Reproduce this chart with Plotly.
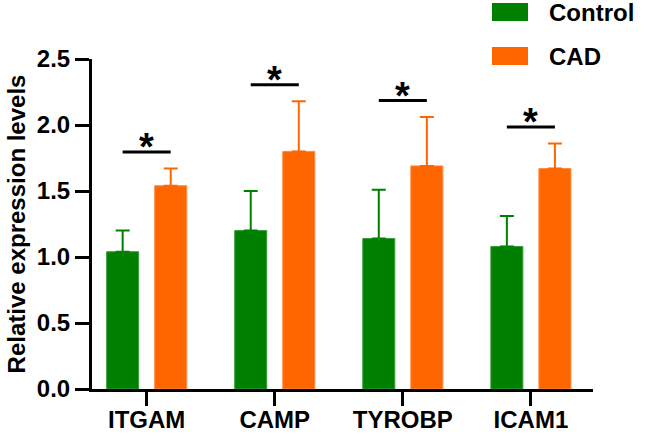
import plotly.graph_objects as go

genes = ["ITGAM", "CAMP", "TYROBP", "ICAM1"]
control = [1.04, 1.20, 1.14, 1.08]
control_err = [0.16, 0.30, 0.37, 0.23]
cad = [1.54, 1.80, 1.69, 1.67]
cad_err = [0.13, 0.38, 0.37, 0.19]
sig_labels = ["*", "*", "*", "*"]
series_names = ["Control", "CAD"]

GREEN = "#008000"
ORANGE = "#FF6600"
FONT = "Arial, Liberation Sans, sans-serif"

W, H = 645, 433
ML, MR, MT, MB = 92, 52, 59, 44

idx = list(range(len(genes)))
bw = 0.25
half = 0.1876

fig = go.Figure()
fig.add_trace(go.Bar(
    x=idx, y=control, name=series_names[0], width=bw, offset=-half - bw / 2,
    marker=dict(color=GREEN, line=dict(color="#3a9a3a", width=1)),
    error_y=dict(type="data", array=control_err, arrayminus=[0] * len(control),
                 symmetric=False, color=GREEN, thickness=2, width=7),
    showlegend=False, hoverinfo="skip",
))
fig.add_trace(go.Bar(
    x=idx, y=cad, name=series_names[1], width=bw, offset=half - bw / 2,
    marker=dict(color=ORANGE, line=dict(color="#ff8a40", width=1)),
    error_y=dict(type="data", array=cad_err, arrayminus=[0] * len(cad),
                 symmetric=False, color=ORANGE, thickness=2, width=7),
    showlegend=False, hoverinfo="skip",
))

# significance brackets
for i in idx:
    top = max(control[i] + control_err[i], cad[i] + cad_err[i])
    sy = top + 0.125
    fig.add_shape(type="line", xref="x", yref="y", x0=i - half, x1=i + half,
                  y0=sy, y1=sy, line=dict(color="black", width=3))
    fig.add_annotation(x=i, y=sy, xref="x", yref="y", text=sig_labels[i],
                       showarrow=False, yanchor="middle", yshift=5,
                       font=dict(family=FONT, size=38, color="black", weight="bold"))

# manual legend
pw = W - ML - MR
ph = H - MT - MB
def px_x(p):
    return (p - ML) / pw
def px_y(p):
    return (H - MB - p) / ph

for k, (name, col, cy) in enumerate([(series_names[0], GREEN, 12), (series_names[1], ORANGE, 56)]):
    fig.add_shape(type="rect", xref="paper", yref="paper",
                  x0=px_x(492), x1=px_x(528), y0=px_y(cy - 9), y1=px_y(cy + 9),
                  fillcolor=col, line=dict(width=0))
    fig.add_annotation(xref="paper", yref="paper", x=px_x(547), y=px_y(cy),
                       text=name, showarrow=False, xanchor="left", yanchor="middle",
                       font=dict(family=FONT, size=24, color="black", weight="bold"))

fig.update_layout(
    width=W, height=H,
    margin=dict(l=ML, r=MR, t=MT, b=MB, autoexpand=False),
    plot_bgcolor="white", paper_bgcolor="white",
    barmode="overlay",
    font=dict(family=FONT, size=24, color="black", weight="bold"),
)
fig.update_xaxes(
    range=[-0.427, 3.485], tickvals=idx, ticktext=genes,
    showline=True, linecolor="black", linewidth=3,
    ticks="outside", ticklen=14, tickwidth=3, tickcolor="black",
    ticklabelstandoff=-7,
    showgrid=False, zeroline=False, automargin=False,
    tickfont=dict(family=FONT, size=24, color="black", weight="bold"),
)
fig.update_yaxes(
    range=[0, 2.5], dtick=0.5, tick0=0, tickformat=".1f",
    showline=True, linecolor="black", linewidth=3,
    ticks="outside", ticklen=14, tickwidth=3, tickcolor="black",
    showgrid=False, zeroline=False, automargin=False,
    tickfont=dict(family=FONT, size=24, color="black", weight="bold"),
    title=dict(text="Relative expression levels", standoff=5,
               font=dict(family=FONT, size=24, color="black", weight="bold")),
)

fig.write_html("out.html", config={"displayModeBar": False, "staticPlot": True},
               post_script="document.body.style.margin='0px';")
